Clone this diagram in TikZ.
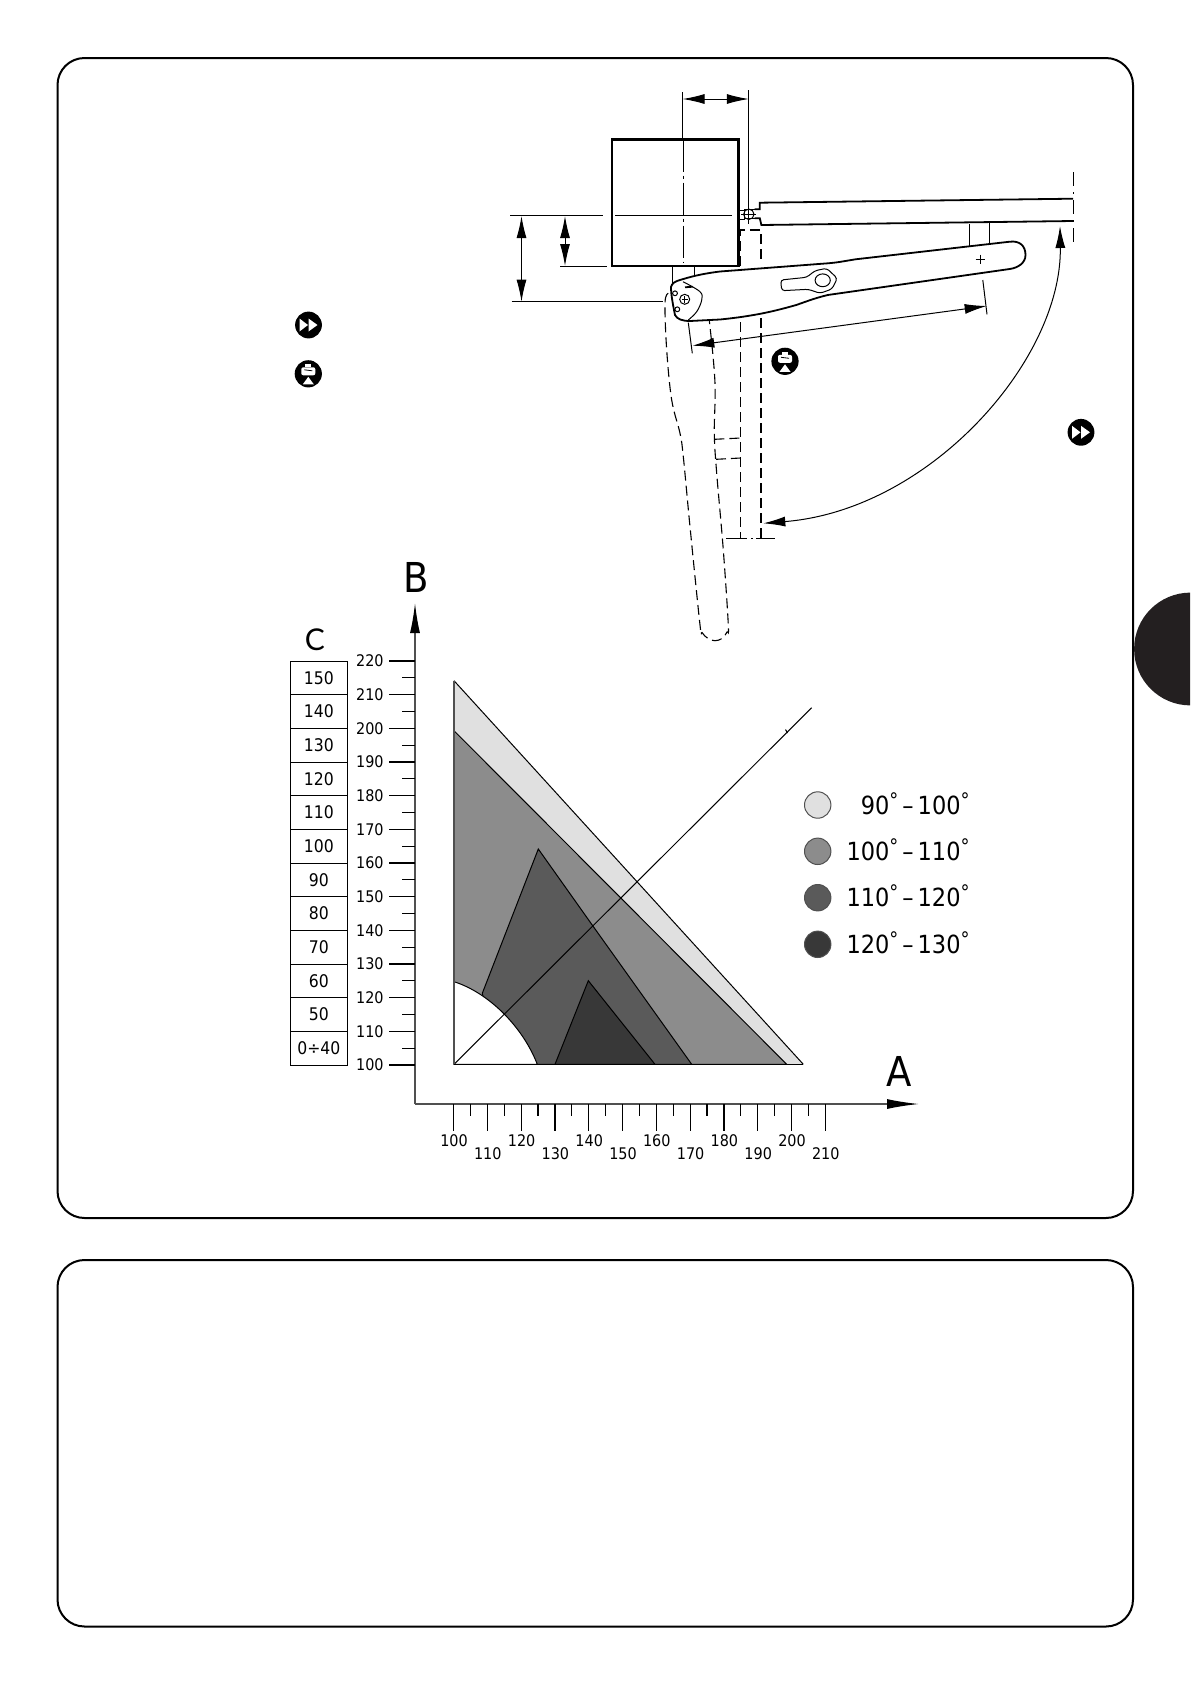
\documentclass[tikz,border=0pt]{standalone}
\usepackage{fontspec}
\setmainfont{DejaVu Sans Condensed}
\newfontfamily\letterfont{Lato}
\usepackage{tikz}
\usetikzlibrary{arrows.meta}
\definecolor{tabblack}{HTML}{231F20}
\definecolor{zoneA}{HTML}{E0E0E0}
\definecolor{zoneB}{HTML}{8C8C8C}
\definecolor{zoneC}{HTML}{5A5A5A}
\definecolor{zoneD}{HTML}{383838}
\definecolor{axisgrey}{HTML}{505050}
\newcommand{\dg}{\raisebox{0.5ex}{\fontsize{10}{10}\selectfont °}}
\tikzset{
  panel/.style={black, line width=1pt, rounded corners=13.5pt},
  dimline/.style={black, line width=0.5pt},
  dimarrow/.style={dimline, {Latex[length=11pt,width=5pt]}-{Latex[length=11pt,width=5pt]}},
  partline/.style={black, line width=0.9pt},
  thinpart/.style={black, line width=0.5pt},
  hiddenline/.style={black, line width=0.55pt, dash pattern=on 5pt off 2.5pt},
  centreline/.style={black, line width=0.4pt, dash pattern=on 16pt off 2pt on 1.5pt off 2pt},
  zoneline/.style={black, line width=0.5pt},
  tick/.style={black, line width=0.6pt},
  ticklabel/.style={font=\fontsize{8}{8}\selectfont, inner sep=0pt},
  cellbox/.style={draw=black, line width=0.4pt, minimum width=28.35pt, minimum height=16.83pt, inner sep=0pt, font=\fontsize{8.7}{8.7}\selectfont},
  legendlabel/.style={font=\fontsize{12.5}{12.5}\selectfont, inner sep=0pt, anchor=base east},
  swatch/.style={draw=axisgrey, line width=0.5pt},
  ffsign/.pic={
    \fill[black] (0,0) circle (6.7pt);
    \fill[white] (-9,-6.5) -- (-0.5,0) -- (-9,6.5) -- cycle;
    \fill[white] (0,-6.5) -- (9,0) -- (0,6.5) -- cycle;
  },
  weightsign/.pic={
    \fill[black] (0,0) circle (6.8pt);
    \fill[white] (-3,-9.5) rectangle (3,-6.5);
    \fill[white, rounded corners=1pt] (-7,-6.5) rectangle (7,1.5);
    \draw[black, line width=0.4pt] (-4,-4) -- (4,-3);
    \fill[white] (0,3) -- (5.5,10.5) -- (-5.5,10.5) -- cycle;
  }
}
\begin{document}
\begin{tikzpicture}[x=0.5pt, y=-0.5pt]
\useasboundingbox (0,0) rectangle (1190,1682);

% Frames and the black side tab
\draw[panel] (57.5,58) rectangle (1133,1218);
\draw[panel] (57.5,1260) rectangle (1133,1626.5);
\begin{scope}
  \clip (1120,580) rectangle (1190,720);
  \fill[tabblack] (1190.5,649) circle (28.2pt);
\end{scope}

% Hidden gate post and hidden arm (open position)
\draw[hiddenline] (740.7,265.7) -- (740.7,230) -- (761,230) -- (761,262);
\draw[hiddenline] (740.7,322) -- (740.7,538);
\draw[hiddenline] (761,318) -- (761,538);
\draw[hiddenline] (714.3,439.3) -- (740.7,438);
\draw[hiddenline] (716,459.3) -- (740.7,458);
\draw[hiddenline] plot[smooth, tension=0.6] coordinates {(668.3,293.3) (665,303) (666.7,350) (671.7,400) (680,433.3) (683.3,456.7) (690,526.7) (700,625)
  (702,632.5) (708,638.5) (715,640.7) (722,638.5) (727,632) (728.3,625) (723.3,550) (716.7,473.3) (714.3,433.3) (715,383.3) (710,326.7) (706,298)};
\draw[black, line width=0.4pt, dash pattern=on 10.5pt off 2pt on 1pt off 1.5pt on 10pt off 5pt] (726,538.7) -- (775,538.7);

% Pillar with its centre lines
\draw[black, line width=1.1pt] (612,139.5) rectangle (738.5,265.7);
\draw[centreline] (683.6,139.5) -- (683.6,262);
\draw[dimline] (615,215) -- (732,215);

% Hinge and gate leaf
\draw[thinpart] (739,210) -- (744,210) -- (744,219) -- (739,219);
\draw[thinpart] (748.8,214.3) circle (2.6pt);
\draw[thinpart] (741,214.5) -- (756,214.5);
\draw[thinpart] (748.8,205) -- (748.8,224);
\draw[thinpart] (754.7,209.3) -- (744,209.3);
\draw[thinpart] (754.7,218.3) -- (744,218.3);
\draw[partline] (754.7,209.3) -- (759.8,209.3) -- (759.8,202.7) -- (1073,198.7);
\draw[partline] (754.7,218.3) -- (759.8,218.3) -- (761.4,225) -- (1073,221);
\draw[black, line width=0.4pt, dash pattern=on 7pt off 3pt on 1pt off 3pt] (1073,172) -- (1073,243);

% Arm brackets
\draw[thinpart] (672.5,265.7) -- (672.5,285);
\draw[thinpart] (694.6,265.7) -- (694.6,276);
\draw[thinpart] (969,223.5) -- (969,246);
\draw[thinpart] (989.5,223) -- (989.5,244);

% Arm
\draw[partline, fill=white] (671,287) .. controls (672,283) and (675,281.5) .. (680,280) .. controls (690,277) and (700,274) .. (720,271.5) -- (827.8,263.3)
  .. controls (838,262.5) and (845,261) .. (855.5,259.3) -- (1009.7,241.7) .. controls (1020,240.5) and (1025.5,246) .. (1025.5,255)
  .. controls (1025.5,263) and (1018,267.8) .. (1009.7,269) -- (827.8,295) .. controls (815,298) and (805,302) .. (796.2,305)
  .. controls (775,311) and (755,316) .. (720,319.5) -- (690,321) .. controls (682,321) and (677,319) .. (675,315) .. controls (673,305) and (671,295) .. cycle;
\draw[thinpart] plot[smooth, tension=0.6] coordinates {(683,281.7) (700,291.7) (701.7,300) (696.7,311.7) (688.3,320)};
\draw[thinpart] (684.7,299.3) circle (2.5pt);
\draw[thinpart] (681.5,299.3) -- (687.9,299.3) (684.7,296.1) -- (684.7,302.5);
\draw[thinpart] (675,293.3) circle (1.2pt);
\draw[thinpart] (677.3,309.3) circle (1.2pt);
\draw[partline] (685,287.3) -- (692.7,286.7);
\draw[thinpart] (975.5,259) -- (984.5,259);
\draw[thinpart] (980,254.5) -- (980,263.5);
\draw[thinpart, rounded corners=1.5pt] (780.7,280) -- (781.7,290.7) -- (808.3,289.3) -- (820,293.3) -- (832,289) -- (837.3,278.3) -- (826.7,268.3) -- (815,270.7) -- (806.7,277.3) -- cycle;
\draw[thinpart] (822.7,280.3) ellipse (3.8pt and 3.2pt);

% Dimension lines
\draw[dimline] (682.5,92) -- (682.5,139.5);
\draw[dimline] (748.8,90) -- (748.8,205);
\draw[dimarrow] (682.5,99) -- (748.8,99);
\draw[dimline] (510,215.7) -- (603.3,215.7);
\draw[dimline] (560,266) -- (606.5,266);
\draw[dimline] (511.6,301.7) -- (662.6,301.7);
\draw[dimarrow] (521.5,216) -- (521.5,301.7);
\draw[dimarrow] (565,216) -- (565,266);
\draw[dimline] (688.3,322.7) -- (692.3,353.3);
\draw[dimline] (982.8,280) -- (987,314.3);
\draw[dimarrow] (692.3,345.7) -- (986.7,306);
\draw[dimarrow] (1060,226) .. controls (1062,360) and (930,510) .. (763.3,523.3);

% Symbols
\pic at (308.5,325) {ffsign};
\pic at (1081,432.3) {ffsign};
\pic at (308.3,373.8) {weightsign};
\pic at (785,361.3) {weightsign};

% Zones of the chart
\fill[zoneA] (454,680.7) -- (803.3,1064.3) -- (454,1064.3) -- cycle;
\draw[zoneline] (454,680.7) -- (803.3,1064.3);
\draw[zoneline, fill=zoneB] (454,730.7) -- (786.7,1064.3) -- (454,1064.3) -- cycle;
\draw[zoneline, fill=zoneC] (482.3,993.3) -- (538.3,849) -- (592.7,925.7) -- (691.7,1064.3) -- (500,1064.3) -- cycle;
\draw[zoneline, fill=zoneD] (588.3,980.7) -- (655,1064.3) -- (555,1064.3) -- cycle;
\draw[zoneline, fill=white] (454,981.7) .. controls (487,992) and (522,1025) .. (537.3,1064.3) -- (454,1064.3) -- cycle;
\draw[zoneline] (454,1064.3) -- (811.7,707.7);
\draw[axisgrey, line width=0.7pt] (454,680.7) -- (454,1064.3);
\draw[black, line width=0.6pt] (454,1064.3) -- (803.3,1064.3);
\draw[zoneline] (785.5,729.5) -- (787.5,733);

% Axes
\draw[axisgrey, line width=0.7pt, -{Latex[length=15pt,width=5pt,black]}] (415,1104) -- (415,603);
\draw[axisgrey, line width=0.7pt, -{Latex[length=16pt,width=5pt,black]}] (415,1104) -- (919,1104);

% Ticks on B
\foreach \v [evaluate=\v as \py using {1065-(\v-100)*3.367}] in {100,110,...,220} {
  \draw[tick] (389,\py) -- (415,\py);
  \node[ticklabel, anchor=east] (b\v) at (384,\py) {\v};
}
\foreach \v [evaluate=\v as \py using {1065-(\v-100)*3.367}] in {105,115,...,215} {
  \draw[tick] (402.3,\py) -- (415,\py);
}

% Ticks on A
\foreach \v [evaluate=\v as \px using {453.5+(\v-100)*3.38}] in {100,110,...,210} {
  \draw[tick] (\px,1104) -- (\px,1130.7);
}
\foreach \v [evaluate=\v as \px using {453.5+(\v-100)*3.38}] in {105,115,...,205} {
  \draw[tick] (\px,1104) -- (\px,1116);
}
\foreach \v [evaluate=\v as \px using {454+(\v-100)*3.38}] in {100,120,...,200} {
  \node[ticklabel] (a\v) at (\px,1141) {\v};
}
\foreach \v [evaluate=\v as \px using {454+(\v-100)*3.38}] in {110,130,...,210} {
  \node[ticklabel] (a\v) at (\px,1154) {\v};
}

% Axis letters
\node[inner sep=0pt, font=\fontsize{20.6}{20.6}\selectfont] (labelB) at (416.7,577.5) {B};
\node[inner sep=0pt, font=\fontsize{20.6}{20.6}\selectfont] (labelA) at (898.7,1071.5) {A};
\node[inner sep=0pt, font=\letterfont\fontsize{15}{15}\selectfont] (labelC) at (315,639.5) {C};

% Column C
\foreach \v [count=\i] in {150,140,130,120,110,100,90,80,70,60,50,0÷40} {
  \node[cellbox] (cell\i) at (318.85,{661+(\i-0.5)*33.67}) {\v};
}

% Legend
\foreach \c/\py/\ta/\tb in {zoneA/805/90/100, zoneB/851.3/100/110, zoneC/897.7/110/120, zoneD/944.3/120/130} {
  \draw[swatch, fill=\c] (817.7,\py) circle (6.6pt);
  \node[legendlabel] (legend\ta) at (970,\py+9) {\ta\dg\hspace{2pt}–\hspace{2pt}\tb\dg};
}

\end{tikzpicture}
\end{document}
